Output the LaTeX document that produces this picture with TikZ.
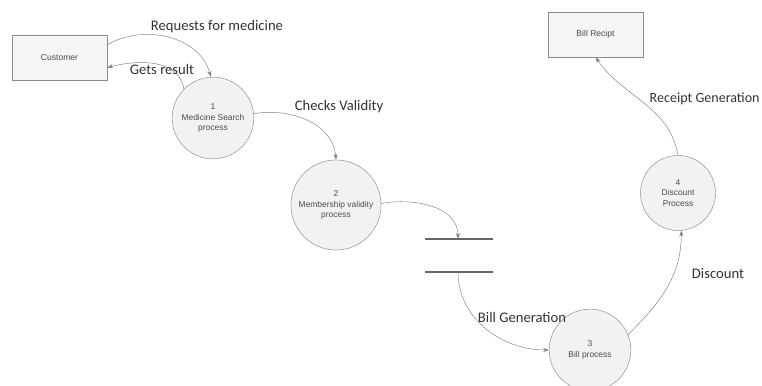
\documentclass[tikz,border=0pt]{standalone}
\usepackage{fontspec}
\setmainfont{Liberation Sans}
\newfontfamily\labelfont{Carlito}
\usetikzlibrary{arrows.meta}
\usetikzlibrary{positioning}

\begin{document}
\begin{tikzpicture}[x=0.03cm,y=0.03cm,
		entity/.style={draw=black!45, fill=black!4, minimum width=2.85cm, minimum height=1.35cm, font=\fontsize{7.3}{8.5}\selectfont, text=black!70},
		process/.style={circle, draw=black!45, fill=black!5, minimum size=2.45cm, align=center, font=\fontsize{7.2}{9}\selectfont, text=black!70},
		flow/.style={draw=black!50, -{Stealth[length=5pt,width=3.5pt]}},
		flowlabel/.style={font=\labelfont\fontsize{12.5}{14}\selectfont, text=black!80},
		store/.style={draw=black!60, line width=1.6pt}]
				\useasboundingbox (0,0) rectangle (762,385);
				
				% External entities
				\node[entity] (cust) at (59.5,327.5) {Customer};
				\node[entity] (bill) at (595.5,350.5) {Bill Recipt};
				
				% Processes
				\node[process] (p1) at (213,267) {1\\Medicine Search\\process};
				\node[process, minimum size=2.55cm] (p2) at (336,180) {2\\Membership validity\\process};
				\node[process] (p3) at (590,35) {3\\Bill process};
				\node[process, minimum size=2.25cm] (p4) at (678,192) {4\\Discount\\Process};
				
				% Data store
				\foreach \y/\n in {146/top, 113/bot} {
					\draw[store] (425,\y) -- (493,\y);
					\coordinate (s\n) at (458,\y);
				}
				
				% Flows
				\draw[flow] (cust.15) to[out=30,in=105] (p1.93);
				\draw[flow] (p1.135) to[out=100,in=15] (cust.-12);
				\draw[flow] (p1.6) to[out=10,in=95] (p2.90);
				\draw[flow] (p2.2) to[out=10,in=90] (stop);
				\draw[flow] (sbot) to[out=-90,in=180] (p3.180);
				\draw[flow] (p3.22) to[out=45,in=-90] (p4.-85);
				\draw[flow] (p4.90) to[out=100,in=-55] (bill.south);
				
				% Labels
				\node[flowlabel] at (217,358) {Requests for medicine};
				\node[flowlabel] at (162,316) {Gets result};
				\node[flowlabel] at (339,278) {Checks Validity};
				\node[flowlabel] at (522,68) {Bill Generation};
				\node[flowlabel] at (718,111) {Discount};
				\node[flowlabel, anchor=east, inner sep=1pt, font=\labelfont\fontsize{12}{14}\selectfont] at (761,286) {Receipt Generation};
			\end{tikzpicture}
\end{document}
